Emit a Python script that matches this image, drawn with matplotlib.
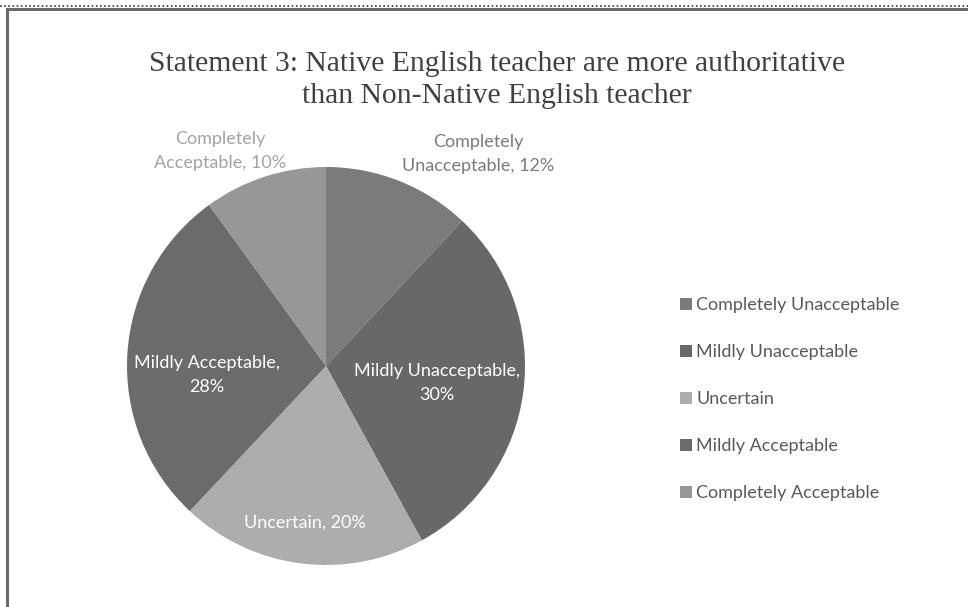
import matplotlib.pyplot as plt
from matplotlib.lines import Line2D
from matplotlib.patches import Patch
import numpy as np

# survey responses, statement 3
categories = ["Completely Unacceptable", "Mildly Unacceptable", "Uncertain",
              "Mildly Acceptable", "Completely Acceptable"]
percent = [12, 30, 20, 28, 10]
colors = ["#7b7b7b", "#686868", "#adadad", "#6b6b6b", "#979797"]

W, H = 968, 607
fig = plt.figure(figsize=(W / 100, H / 100), dpi=100)

# frame around the chart area
fig.add_artist(Line2D([0, 1], [1 - 6 / H, 1 - 6 / H], transform=fig.transFigure,
                      color="#333333", lw=1.2, linestyle=(0, (1, 1.5))))
fig.add_artist(Line2D([7 / W, 7 / W, 1.0], [0, 1 - 9 / H, 1 - 9 / H],
                      transform=fig.transFigure, color="#6a6a6a", lw=2.2,
                      solid_joinstyle="miter"))

fig.text(497 / W, 1 - 80 / H,
         "Statement 3: Native English teacher are more authoritative\n"
         "than Non-Native English teacher",
         ha="center", va="center", family="Liberation Serif", fontsize=21.3,
         color="#404040", linespacing=1.32)

# pie: centre (326, 366) px, radius 199 px
cx, cy, r = 326, 366, 199
ax = fig.add_axes([(cx - r) / W, (H - cy - r) / H, 2 * r / W, 2 * r / H])
wedges, _ = ax.pie(percent, colors=colors, startangle=90, counterclock=False,
                   radius=1, wedgeprops=dict(linewidth=0))
ax.set_xlim(-1, 1)
ax.set_ylim(-1, 1)
ax.set_aspect("equal")
ax.axis("off")

label_font = "Lato"
label_pos = [(0.764, 1.065), (0.558, -0.085), (-0.106, -0.789),
             (-0.598, -0.045), (-0.533, 1.08)]
label_text = ["Completely\nUnacceptable, {}%", "Mildly Unacceptable,\n{}%",
              "Uncertain, {}%", "Mildly Acceptable,\n{}%",
              "Completely\nAcceptable, {}%"]
label_color = ["#7b7b7b", "white", "white", "white", "#a3a3a3"]
for (x, y), t, c, p in zip(label_pos, label_text, label_color, percent):
    ax.text(x, y, t.format(p), ha="center", va="center", color=c,
            family=label_font, fontsize=13, linespacing=1.6, clip_on=False)

handles = [Patch(facecolor=c, edgecolor="none") for c in colors]
fig.legend(handles, categories, loc="center left",
           bbox_to_anchor=(664 / W, 1 - 399 / H), frameon=False,
           prop=dict(family=label_font, size=13), labelcolor="#595959",
           handlelength=0.65, handleheight=0.65, handletextpad=0.25,
           labelspacing=1.72)

fig.savefig("out.png", dpi=100)
